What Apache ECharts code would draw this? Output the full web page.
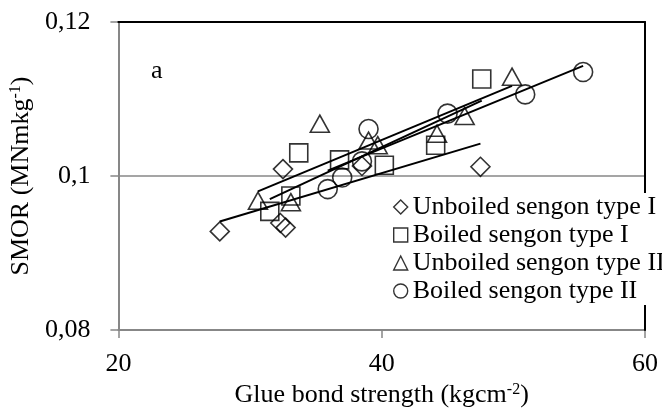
<!DOCTYPE html>
<html>
<head>
<meta charset="utf-8">
<script src="https://cdn.jsdelivr.net/npm/echarts@6/dist/echarts.min.js"></script>
<style>
  html, body { margin: 0; padding: 0; background: #fff; }
  #chart { width: 662px; height: 413px; }
</style>
</head>
<body>
<div id="chart"></div>
<script>
// Glue bond strength (x) against SMOR (y) for four sengon groups
const seriesNames = [
  'Unboiled sengon type I',
  'Boiled sengon type I',
  'Unboiled sengon type II',
  'Boiled sengon type II'
];

const unboiledIX = [27.7, 32.5, 32.3, 32.7, 38.5, 47.5];
const unboiledIY = [0.0928, 0.1009, 0.0939, 0.0933, 0.1013, 0.1012];

const boiledIX = [33.7, 33.1, 31.5, 36.8, 40.2, 44.1, 47.6];
const boiledIY = [0.1030, 0.0974, 0.0954, 0.1021, 0.1014, 0.1040, 0.1126];

const unboiledIIX = [30.6, 33.1, 35.3, 39.0, 39.7, 44.2, 46.3, 49.9];
const unboiledIIY = [0.0968, 0.0966, 0.1068, 0.1046, 0.1040, 0.1055, 0.1078, 0.1129];

const boiledIIX = [35.9, 37.0, 38.5, 39.0, 45.0, 50.9, 55.3];
const boiledIIY = [0.0983, 0.0998, 0.1019, 0.1061, 0.1081, 0.1106, 0.1135];

// Linear trend lines: [start, end] as [x, y]
const trendUnboiledI = [[27.7, 0.0941], [47.5, 0.1042]];
const trendBoiledI = [[31.5, 0.0970], [47.6, 0.1098]];
const trendUnboiledII = [[30.6, 0.0980], [49.9, 0.1117]];
const trendBoiledII = [[35.9, 0.1007], [55.3, 0.1143]];

const xTicks = { min: 20, max: 60, step: 20 };
const yTicks = { min: 0.08, max: 0.12, step: 0.02 };

const FONT = "'Liberation Serif', 'Times New Roman', serif";
const AXIS_GREY = '#878787';

const pairs = (xs, ys) => xs.map((x, i) => [x, ys[i]]);

const markerStyle = {
  color: 'rgba(0,0,0,0)',
  borderColor: '#000',
  borderWidth: 1.6
};

function scatter(name, xs, ys, symbol, size) {
  return {
    name: name,
    type: 'scatter',
    data: pairs(xs, ys),
    symbol: symbol,
    symbolSize: size,
    itemStyle: markerStyle,
    z: 3
  };
}

function trend(name, pts) {
  return {
    name: name,
    type: 'line',
    data: pts,
    symbol: 'none',
    silent: true,
    lineStyle: { color: '#000', width: 2 },
    z: 4
  };
}

const chart = echarts.init(document.getElementById('chart'), null, { renderer: 'canvas' });

chart.setOption({
  animation: false,
  backgroundColor: '#fff',
  title: {
    text: 'a',
    left: 151,
    top: 58,
    padding: 0,
    textStyle: { fontFamily: FONT, fontSize: 26, fontWeight: 'normal', color: '#000' }
  },
  grid: { left: 106, right: 17, top: 22, bottom: 78, containLabel: false },
  legend: {
    orient: 'vertical',
    left: 393,
    top: 193,
    padding: 0,
    itemGap: 0,
    itemWidth: 14,
    itemHeight: 14,
    backgroundColor: '#fff',
    z: 10,
    data: seriesNames,
    itemStyle: { borderWidth: 1.4 },
    textStyle: { fontFamily: FONT, fontSize: 26, color: '#000', lineHeight: 28 }
  },
  xAxis: [
    {
      type: 'value',
      position: 'bottom',
      min: xTicks.min,
      max: xTicks.max,
      interval: xTicks.step,
      name: 'Glue bond strength (kgcm{s|-2})',
      nameLocation: 'middle',
      nameGap: 52,
      nameTextStyle: {
        fontFamily: FONT, fontSize: 26, color: '#000',
        rich: { s: { fontFamily: FONT, fontSize: 16, color: '#000', verticalAlign: 'top' } }
      },
      axisLine: { show: true, lineStyle: { color: AXIS_GREY, width: 2 } },
      axisTick: { show: true, inside: false, length: 8, lineStyle: { color: AXIS_GREY, width: 1.5 } },
      axisLabel: { fontFamily: FONT, fontSize: 26, color: '#000', margin: 21 },
      splitLine: { show: false }
    },
    {
      type: 'value',
      position: 'top',
      min: xTicks.min,
      max: xTicks.max,
      interval: xTicks.step,
      z: 3,
      axisLine: { show: true, lineStyle: { color: '#000', width: 2 } },
      axisTick: { show: false },
      axisLabel: { show: false },
      splitLine: { show: false }
    }
  ],
  yAxis: [
    {
      type: 'value',
      position: 'left',
      min: yTicks.min,
      max: yTicks.max,
      interval: yTicks.step,
      name: 'SMOR (MNmkg{s|-1})',
      nameLocation: 'middle',
      nameGap: 68,
      nameTextStyle: {
        fontFamily: FONT, fontSize: 26, color: '#000',
        rich: { s: { fontFamily: FONT, fontSize: 16, color: '#000', verticalAlign: 'top' } }
      },
      axisLine: { show: true, lineStyle: { color: AXIS_GREY, width: 2 } },
      axisTick: { show: true, inside: false, length: 8, lineStyle: { color: AXIS_GREY, width: 1.5 } },
      axisLabel: {
        fontFamily: FONT, fontSize: 26, color: '#000', margin: 28,
        formatter: v => String(+v.toFixed(2)).replace('.', ',')
      },
      splitLine: {
        show: true,
        showMinLine: false,
        showMaxLine: false,
        lineStyle: { color: AXIS_GREY, width: 1.5 }
      }
    },
    {
      type: 'value',
      position: 'right',
      min: yTicks.min,
      max: yTicks.max,
      interval: yTicks.step,
      z: 3,
      axisLine: { show: true, lineStyle: { color: '#000', width: 2 } },
      axisTick: { show: false },
      axisLabel: { show: false },
      splitLine: { show: false }
    }
  ],
  series: [
    scatter(seriesNames[0], unboiledIX, unboiledIY, 'diamond', 19),
    scatter(seriesNames[1], boiledIX, boiledIY, 'rect', 18),
    scatter(seriesNames[2], unboiledIIX, unboiledIIY, 'triangle', [19, 17]),
    scatter(seriesNames[3], boiledIIX, boiledIIY, 'circle', 19),
    trend('Linear (' + seriesNames[0] + ')', trendUnboiledI),
    trend('Linear (' + seriesNames[1] + ')', trendBoiledI),
    trend('Linear (' + seriesNames[2] + ')', trendUnboiledII),
    trend('Linear (' + seriesNames[3] + ')', trendBoiledII)
  ]
});
</script>
</body>
</html>
